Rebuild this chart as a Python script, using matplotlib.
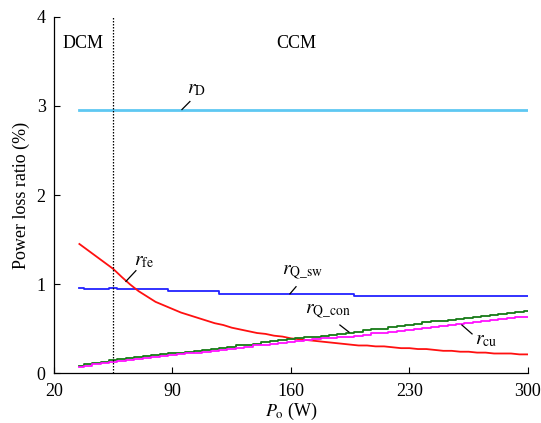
import matplotlib
matplotlib.use("Agg")
import matplotlib.pyplot as plt

plt.rcParams['font.family'] = ['Liberation Serif', 'DejaVu Serif']
plt.rcParams['mathtext.fontset'] = 'stix'

# output power grid (W)
po = [35, 40, 45, 50, 55, 60, 65, 70, 75, 80, 85, 90, 95, 100, 105, 110, 115, 120,
      125, 130, 135, 140, 145, 150, 155, 160, 165, 170, 175, 180, 185, 190, 195, 200,
      205, 210, 215, 220, 225, 230, 235, 240, 245, 250, 255, 260, 265, 270, 275, 280,
      285, 290, 295, 300]

# loss ratios (%)
r_d = [2.96] * len(po)

r_q_sw = [0.96, 0.945, 0.945, 0.945, 0.955, 0.945, 0.945, 0.945, 0.945, 0.945, 0.945,
          0.92, 0.92, 0.92, 0.92, 0.92, 0.92, 0.89, 0.89, 0.89, 0.89, 0.89, 0.89, 0.89,
          0.89, 0.89, 0.89, 0.89, 0.89, 0.89, 0.89, 0.89, 0.89, 0.868, 0.868, 0.868,
          0.868, 0.868, 0.868, 0.868, 0.868, 0.868, 0.868, 0.868, 0.868, 0.868, 0.868,
          0.868, 0.868, 0.868, 0.868, 0.868, 0.868, 0.868]

r_fe = [1.45, 1.38, 1.31, 1.24, 1.17, 1.08, 0.995, 0.92, 0.86, 0.80, 0.76, 0.72, 0.68,
        0.65, 0.62, 0.59, 0.56, 0.54, 0.51, 0.49, 0.47, 0.45, 0.44, 0.42, 0.41, 0.39,
        0.38, 0.37, 0.36, 0.35, 0.34, 0.33, 0.32, 0.31, 0.31, 0.30, 0.30, 0.29, 0.28,
        0.28, 0.27, 0.27, 0.26, 0.25, 0.25, 0.24, 0.24, 0.23, 0.23, 0.22, 0.22, 0.22,
        0.21, 0.21]

r_q_con = [0.08, 0.10, 0.11, 0.13, 0.145, 0.155, 0.165, 0.18, 0.19, 0.20, 0.21, 0.22,
           0.23, 0.24, 0.25, 0.26, 0.27, 0.285, 0.29, 0.31, 0.32, 0.33, 0.345, 0.36,
           0.37, 0.385, 0.39, 0.40, 0.41, 0.42, 0.43, 0.44, 0.45, 0.46, 0.48, 0.49,
           0.50, 0.52, 0.53, 0.54, 0.55, 0.57, 0.58, 0.59, 0.60, 0.61, 0.62, 0.63,
           0.645, 0.655, 0.665, 0.675, 0.69, 0.70]

r_cu = [0.07, 0.085, 0.10, 0.115, 0.13, 0.14, 0.15, 0.16, 0.17, 0.18, 0.19, 0.20, 0.21,
        0.22, 0.23, 0.24, 0.25, 0.26, 0.27, 0.28, 0.29, 0.31, 0.32, 0.33, 0.34, 0.35,
        0.36, 0.37, 0.38, 0.39, 0.395, 0.40, 0.41, 0.42, 0.43, 0.445, 0.455, 0.46,
        0.47, 0.48, 0.49, 0.51, 0.52, 0.53, 0.545, 0.555, 0.565, 0.575, 0.585, 0.595,
        0.605, 0.615, 0.625, 0.63]

boundary = 55  # DCM / CCM boundary (W)

fig = plt.figure(figsize=(5.41, 4.23), dpi=100)
ax = fig.add_axes([0.0998, 0.118, 0.876, 0.842])

ax.plot(po, r_d, color='#5ec8f2', lw=2.0)
ax.plot(po, r_q_sw, color='#2222ff', lw=1.3, drawstyle='steps-mid')
ax.plot(po, r_fe, color='#ff1010', lw=1.3)
ax.plot(po, r_q_con, color='#167a16', lw=1.3, drawstyle='steps-mid')
ax.plot(po, r_cu, color='#ff10ff', lw=1.3, drawstyle='steps-mid')

ax.axvline(boundary, color='black', lw=0.9, ls=(0, (1.2, 1.2)))

ax.set_xlim(20, 300)
ax.set_ylim(0, 4)
ax.set_xticks([20, 90, 160, 230, 300])
ax.set_yticks([0, 1, 2, 3, 4])
for s in ['top', 'right']:
    ax.spines[s].set_visible(False)
ax.tick_params(direction='in', length=4, labelsize=13, width=0.8)
ax.tick_params(axis='x', pad=7)
ax.tick_params(axis='y', pad=6)
ax.spines['left'].set_linewidth(0.9)
ax.spines['bottom'].set_linewidth(0.9)

ax.set_xlabel(r'$P_\mathrm{o}$ (W)', fontsize=13, labelpad=1)
ax.set_ylabel('Power loss ratio (%)', fontsize=13, labelpad=5)

ax.text(25, 3.70, 'DCM', fontsize=13, va='center')
ax.text(163, 3.70, 'CCM', fontsize=13, va='center', ha='center')

# curve labels with leader lines
labels = [
    (r'$r_\mathrm{D}$', (98.5, 3.18), (95.6, 2.96), (100.3, 3.05)),
    (r'$r_\mathrm{fe}$', (67.5, 1.25), (62.5, 1.03), (68.4, 1.15)),
    (r'$r_\mathrm{Q\_sw}$', (154.5, 1.13), (159.4, 0.89), (163.0, 0.97)),
    (r'$r_\mathrm{Q\_con}$', (168.5, 0.685), (194.3, 0.46), (188.9, 0.54)),
    (r'$r_\mathrm{cu}$', (268.5, 0.37), (267.0, 0.44), (261.0, 0.54)),
]
for txt, tpos, p0, p1 in labels:
    ax.text(tpos[0], tpos[1], txt, fontsize=14, va='center', ha='left')
    ax.plot([p0[0], p1[0]], [p0[1], p1[1]], color='black', lw=0.9)

fig.savefig('out.png', dpi=100)
